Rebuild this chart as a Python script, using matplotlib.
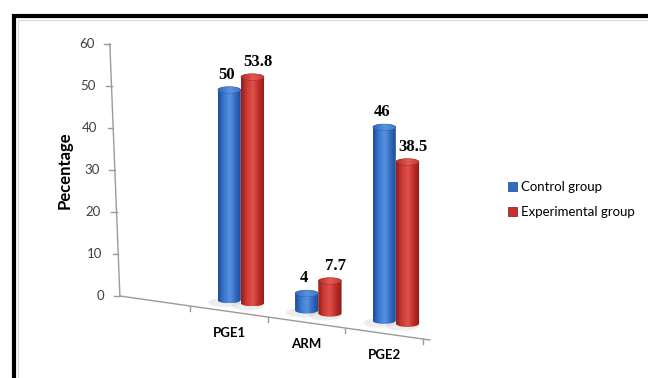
import numpy as np
import matplotlib
matplotlib.use("Agg")
import matplotlib.pyplot as plt
from matplotlib.patches import Ellipse, PathPatch, Patch, Rectangle
from matplotlib.path import Path
from matplotlib.colors import LinearSegmentedColormap

categories = ["PGE1", "ARM", "PGE2"]
control = [50, 4, 46]
experimental = [53.8, 7.7, 38.5]
value_labels_control = ["50", "4", "46"]
value_labels_experimental = ["53.8", "7.7", "38.5"]
series_names = ["Control group", "Experimental group"]
y_ticks = [0, 10, 20, 30, 40, 50, 60]

# perspective floor: bars stand further down the page as we move right
FLOOR_SLOPE = -2.45
FRONT_SLOPE = -2.62
BAR_W = 0.30
RY = 0.8  # half height of the cylinder end ellipses

blue_cmap = LinearSegmentedColormap.from_list(
    "blue_cyl", ["#1d4c96", "#3a78d0", "#5892e0", "#2f68bf", "#1c488a"])
red_cmap = LinearSegmentedColormap.from_list(
    "red_cyl", ["#901c1c", "#cf3a36", "#de524c", "#bd2c2a", "#881a1a"])
blue_cap = LinearSegmentedColormap.from_list("blue_cap", ["#2f66bb", "#5b93dd", "#3b73c8"])
red_cap = LinearSegmentedColormap.from_list("red_cap", ["#b52a28", "#e05a54", "#c53632"])

gradient = np.linspace(0, 1, 128).reshape(1, -1)


def floor_at(x):
    return FLOOR_SLOPE * (x - 0.5)


def front_at(x):
    return FRONT_SLOPE * (x + 0.53)


def cylinder(ax, xc, base, value, cmap, capmap, edge, z):
    top = base + value
    rx = BAR_W / 2
    t = np.linspace(0, np.pi, 60)
    bottom_arc = np.column_stack([xc + rx * np.cos(t), base - RY * np.sin(t)])
    top_arc = np.column_stack([xc - rx * np.cos(t), top + RY * np.sin(t)])
    verts = np.vstack([bottom_arc, top_arc, bottom_arc[:1]])
    body = PathPatch(Path(verts, closed=True), fc="none", ec="none", zorder=z + 0.1)
    ax.add_patch(body)
    im = ax.imshow(gradient, extent=(xc - rx, xc + rx, base - RY, top + RY),
                   cmap=cmap, aspect="auto", interpolation="bicubic", zorder=z)
    im.set_clip_path(body)
    cap = Ellipse((xc, top), BAR_W, 2 * RY, fc="none", ec=edge, lw=0.3, alpha=0.6,
                  zorder=z + 0.3)
    ax.add_patch(cap)
    cim = ax.imshow(gradient, extent=(xc - rx, xc + rx, top - RY, top + RY),
                    cmap=capmap, aspect="auto", interpolation="bicubic", zorder=z + 0.2)
    cim.set_clip_path(cap)
    return top


fig = plt.figure(figsize=(6.48, 3.78), dpi=100)
ax = fig.add_axes([0, 0, 1, 1])
ax.axis("off")

# outer frame
fig.add_artist(Rectangle((0.021, -0.1), 1.0, 1.058, transform=fig.transFigure,
                         fill=False, ec="black", lw=3.0))
fig.add_artist(Rectangle((0.028, -0.1), 1.0, 1.048, transform=fig.transFigure,
                         fill=False, ec="#d8d8d8", lw=0.8))

# value axis, leaning slightly left towards the top
def axis_x(v):
    return -0.53 - 0.13 * v / 60.0

ax.plot([axis_x(0), axis_x(60)], [0, 60], color="#9a9a9a", lw=1.0, zorder=1)
for v in y_ticks:
    ax.plot([axis_x(v) - 0.07, axis_x(v)], [v, v], color="#9a9a9a", lw=1.0, zorder=1)
    ax.text(axis_x(v) - 0.2, v, str(v), ha="right", va="center",
            fontsize=9.5, family="Lato", color="#404040")
ax.text(-1.24, 30, "Pecentage", rotation=90, ha="center", va="center",
        fontsize=12, family="Lato", fontweight="bold")

# category axis along the front edge of the floor
edge_x = np.array([-0.53, 3.47])
ax.plot(edge_x, front_at(edge_x), color="#9a9a9a", lw=1.0, zorder=1)
for b in [0.38, 1.38, 2.38, 3.38]:
    ax.plot([b, b], [front_at(b), front_at(b) - 1.2], color="#9a9a9a", lw=1.0, zorder=1)
for i, name in enumerate(categories):
    xl = i + 1 - 0.12
    ax.text(xl, front_at(xl) - 5.1, name, ha="center", va="center",
            fontsize=9.5, family="Lato", fontweight="bold")

# bars
for i in range(len(categories)):
    xc = i + 1.03
    xb, xr = xc - 0.15, xc + 0.15
    for xs in (xb, xr):
        ax.add_patch(Ellipse((xs - 0.06, floor_at(xs) - 0.6), BAR_W * 1.4, 2.2,
                             fc="#c4c4c4", ec="none", alpha=0.3, zorder=2))
    top_b = cylinder(ax, xb, floor_at(xb), control[i], blue_cmap, blue_cap, "#1a4080", 3 + i)
    top_r = cylinder(ax, xr, floor_at(xr), experimental[i], red_cmap, red_cap, "#7a1515", 3.5 + i)
    ax.text(xb - 0.03, top_b + RY + 1.9, value_labels_control[i], ha="center", va="baseline",
            fontsize=12, family="Liberation Serif", fontweight="bold")
    ax.text(xr + 0.07, top_r + RY + 1.9, value_labels_experimental[i], ha="center",
            va="baseline", fontsize=12, family="Liberation Serif", fontweight="bold")

handles = [Patch(fc="#2f6cc4", ec="#1a4080", lw=0.5), Patch(fc="#c8302e", ec="#7a1515", lw=0.5)]
fig.legend(handles, series_names, loc="center left", bbox_to_anchor=(0.765, 0.472),
           frameon=False, handlelength=0.75, handleheight=0.75, handletextpad=0.3,
           labelspacing=1.0, prop={"family": "Lato", "size": 9.5})

ax.set_xlim(-2.077, 6.284)
ax.set_ylim(-19.52, 70.48)
fig.savefig("out.png", dpi=100)
